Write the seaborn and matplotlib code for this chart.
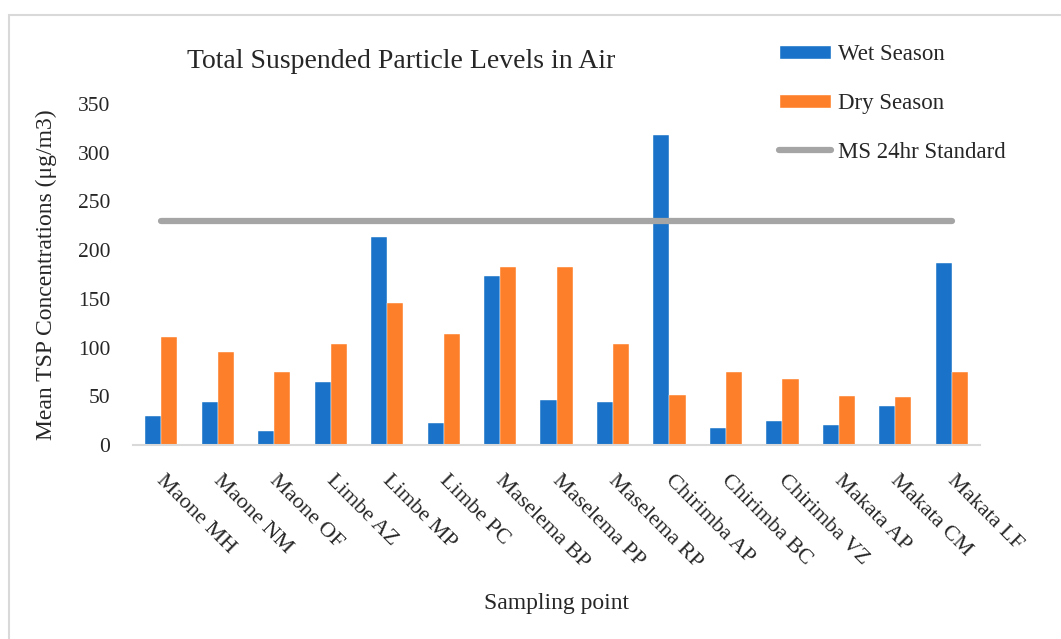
import matplotlib
matplotlib.use("Agg")
import matplotlib.pyplot as plt
import matplotlib.transforms as mtransforms
import seaborn as sns
import pandas as pd
from matplotlib.patches import Patch, Rectangle
from matplotlib.lines import Line2D

categories = ["Maone MH", "Maone NM", "Maone OF", "Limbe AZ", "Limbe MP", "Limbe PC",
              "Maselema BP", "Maselema PP", "Maselema RP", "Chirimba AP", "Chirimba BC",
              "Chirimba VZ", "Makata AP", "Makata CM", "Makata LF"]
wet_season = [30, 44, 14, 65, 213, 23, 173, 46, 44, 318, 17, 25, 21, 40, 187]
dry_season = [111, 95, 75, 104, 146, 114, 183, 183, 104, 51, 75, 68, 50, 49, 75]
standard_value = 230
series_names = ["Wet Season", "Dry Season"]
standard_name = "MS 24hr Standard"
yticks = [0, 50, 100, 150, 200, 250, 300, 350]

BLUE = "#1a73c8"
ORANGE = "#fe7f29"
GRAY = "#a5a5a5"

sns.set_theme(style="white")
plt.rcParams['font.family'] = ['Liberation Serif', 'DejaVu Serif']

df = pd.DataFrame({
    "Sampling point": categories * 2,
    "value": wet_season + dry_season,
    "Season": [series_names[0]] * len(categories) + [series_names[1]] * len(categories),
})

fig = plt.figure(figsize=(10.61, 6.39), dpi=100)
ax = fig.add_axes([0.1254, 0.3036, 0.7983, 0.5336])

sns.barplot(data=df, x="Sampling point", y="value", hue="Season",
            palette=[BLUE, ORANGE], width=0.57, gap=0, ax=ax, legend=False,
            edgecolor="white", linewidth=0.3, saturation=1)

ax.plot(range(len(categories)), [standard_value] * len(categories), color=GRAY,
        lw=4.5, solid_capstyle="round", zorder=3)

ax.set_ylim(0, 350)
ax.set_xlim(-0.5, len(categories) - 0.5)
ax.set_yticks(yticks)
ax.tick_params(axis="y", length=0, pad=16.5, labelsize=15.5)
ax.tick_params(axis="x", length=0, pad=19, labelsize=16)
ax.set_xticks(range(len(categories)))
ax.set_xticklabels(categories, rotation=-45, ha="left", va="top", rotation_mode="anchor")
for lbl in ax.get_xticklabels():
    lbl.set_transform(lbl.get_transform() + mtransforms.ScaledTranslation(0.05, 0, fig.dpi_scale_trans))

for s in ["top", "right", "left"]:
    ax.spines[s].set_visible(False)
ax.spines["bottom"].set_color("#d9d9d9")
ax.spines["bottom"].set_linewidth(1.5)

ax.set_ylabel("Mean TSP Concentrations (μg/m3)", fontsize=17, labelpad=15)
ax.set_xlabel("Sampling point", fontsize=17, labelpad=15)
fig.text(0.378, 0.903, "Total Suspended Particle Levels in Air", ha="center", va="center", fontsize=20)

handles = [Patch(facecolor=BLUE), Patch(facecolor=ORANGE),
           Line2D([0], [0], color=GRAY, lw=4.5, solid_capstyle="round")]
fig.legend(handles, series_names + [standard_name], loc="upper left",
           bbox_to_anchor=(0.7237, 0.949), frameon=False, fontsize=16.5,
           handlelength=2.27, handleheight=0.57, labelspacing=1.22, handletextpad=0.3,
           borderpad=0)

fig.patches.append(Rectangle((9 / 1061, -0.1), 1.2, 1 - 15 / 639 + 0.1, transform=fig.transFigure,
                             fill=False, edgecolor="#d9d9d9", lw=1.5, zorder=0))

fig.savefig("out.png", dpi=100)
